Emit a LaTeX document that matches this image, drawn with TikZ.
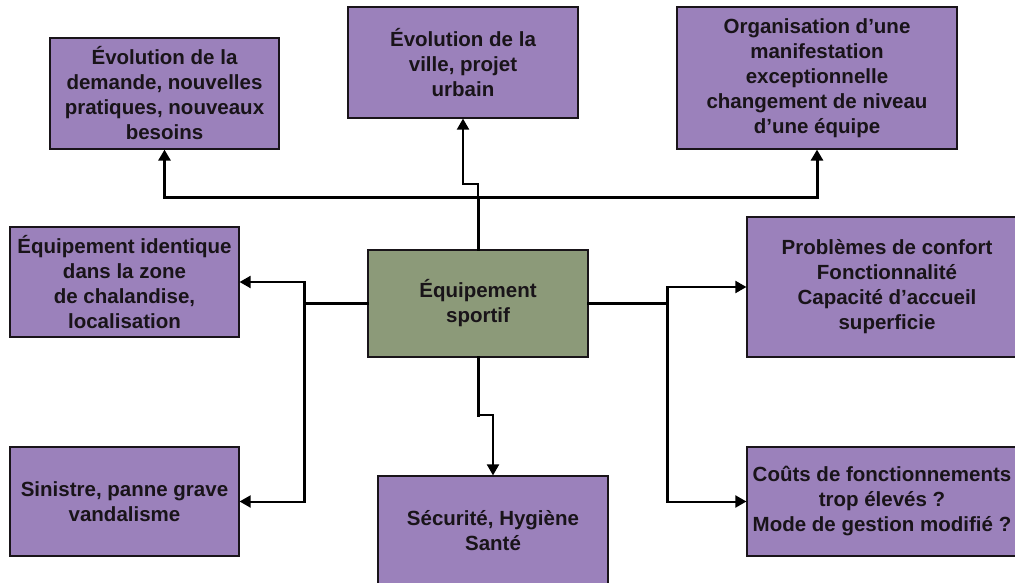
\documentclass[tikz,border=0pt]{standalone}
\usepackage{fontspec}
\setmainfont{Liberation Sans}
\usetikzlibrary{arrows.meta}
\definecolor{boxviolet}{RGB}{155,129,187}
\definecolor{boxgreen}{RGB}{140,154,121}
\definecolor{ink}{RGB}{25,20,25}
\begin{document}
\begin{tikzpicture}[x=1pt,y=-1pt,
  box/.style={draw=ink, line width=1.2pt, fill=boxviolet, inner sep=0pt,
    align=center, text=ink, font=\bfseries\fontsize{20.5}{25}\selectfont},
  hub/.style={box, fill=boxgreen},
  trunk/.style={line width=3pt, draw=black, line cap=rect},
  branch/.style={line width=2pt, draw=black},
  tip/.style={-{Triangle[length=11pt 0 0,width=12pt 0 0]}}
]
\useasboundingbox (0,0) rectangle (1015,583);
\clip (0,0) rectangle (1015,583);
\fill[white] (0,0) rectangle (1015,583);

% boxes
\node[box, minimum width=229pt, minimum height=111pt] (b1) at (164.5,93.5)
  {Évolution de la\\demande, nouvelles\\pratiques, nouveaux\\besoins};
\node[box, minimum width=230pt, minimum height=111pt] (b2) at (463,62.5)
  {Évolution de la\\ville, projet\\urbain};
\node[box, minimum width=280pt, minimum height=142pt] (b3) at (817,78)
  {Organisation d’une\\manifestation\\exceptionnelle\\changement de niveau\\d’une équipe};
\node[box, minimum width=229pt, minimum height=110pt] (b4) at (124.5,282)
  {Équipement identique\\dans la zone\\de chalandise,\\localisation};
\node[hub, minimum width=220pt, minimum height=107pt] (c) at (478,303.5)
  {Équipement\\sportif};
\node[box, minimum width=280pt, minimum height=140pt] (b6) at (887,287)
  {Problèmes de confort\\Fonctionnalité\\Capacité d’accueil\\superficie};
\node[box, minimum width=229pt, minimum height=109pt] (b7) at (124.5,501.5)
  {Sinistre, panne grave\\vandalisme};
\node[box, minimum width=230pt, minimum height=110pt] (b8) at (493,531)
  {Sécurité, Hygiène\\Santé};
\node[box, minimum width=270pt, minimum height=109pt] (b9) at (882,501.5)
  {Coûts de fonctionnements\\trop élevés ?\\Mode de gestion modifié ?};

% junctions
\coordinate (jt) at (478,197);
\coordinate (jl) at (304,303.5);
\coordinate (jr) at (667,303.5);
\coordinate (jb) at (478,415);

% upward branches
\draw[trunk] (c.north) -- (jt);
\draw[trunk, line cap=butt, tip] (jt) -| (b1.south);
\draw[trunk, line cap=butt, tip] (jt) -| (b3.south);
\draw[branch, tip] (jt) -- ++(0,-13) -| (b2.south);

% left branches
\draw[trunk] (c.west) -- (jl);
\draw[trunk] (jl |- b4.east) -- (jl |- b7.east);
\draw[branch, tip] (jl |- b4.east) -- (b4.east);
\draw[branch, tip] (jl |- b7.east) -- (b7.east);

% right branches
\draw[trunk] (c.east) -- (jr);
\draw[trunk] (jr |- b6.west) -- (jr |- b9.west);
\draw[branch, tip] (jr |- b6.west) -- (b6.west);
\draw[branch, tip] (jr |- b9.west) -- (b9.west);

% downward branch
\draw[trunk] (c.south) -- (jb);
\draw[branch, tip] (jb) -| (b8.north);
\end{tikzpicture}
\end{document}
